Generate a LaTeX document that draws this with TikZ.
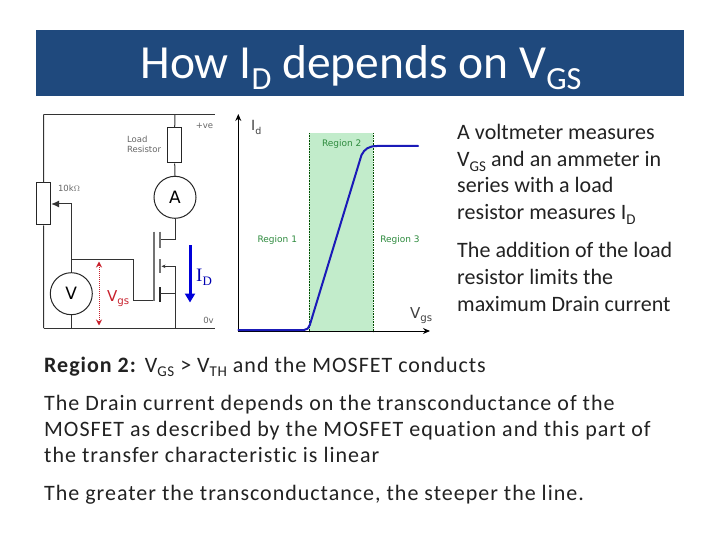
\documentclass[tikz,border=0pt]{standalone}
\usepackage{fontspec}
\setmainfont[Ligatures=NoCommon]{Carlito}
\newfontfamily\spaced[LetterSpace=4.5,Ligatures=NoCommon]{Carlito}
\newfontfamily\spacedt[LetterSpace=0.2,Ligatures=NoCommon]{Carlito}
\newfontfamily\dvsans{DejaVu Sans}
\newfontfamily\lserif{Liberation Serif}
\usetikzlibrary{arrows.meta}
\definecolor{titlebar}{HTML}{1F497D}
\definecolor{bodytext}{HTML}{222222}
\definecolor{regiongreen}{HTML}{C2ECCB}
\definecolor{regiontext}{HTML}{2E8B3E}
\definecolor{curveblue}{HTML}{1A1AB8}
\definecolor{redlabel}{HTML}{C8202C}
\newcommand{\subs}[1]{\raisebox{-0.22em}{\fontsize{0.68em}{0.68em}\selectfont #1}}
\tikzset{
  body/.style={anchor=base west,inner sep=0pt,text=bodytext,font=\spacedt\fontsize{22}{24}\selectfont},
  wide/.style={anchor=base west,inner sep=0pt,text=bodytext,font=\spaced\fontsize{22}{24}\selectfont},
  wire/.style={draw=black!80,line width=1pt},
  comp/.style={draw=black!85,line width=1pt,fill=white},
  meter/.style={circle,draw=black!85,line width=1pt,fill=white,minimum size=42pt,inner sep=0pt,font=\dvsans\fontsize{17}{17}\selectfont},
  tiny/.style={inner sep=0pt,text=black!60,font=\dvsans\fontsize{8.5}{9}\selectfont,align=left},
  regionlab/.style={inner sep=0pt,text=regiontext,font=\dvsans\fontsize{9}{9}\selectfont},
  axis/.style={draw=black,line width=1pt,-{Stealth[length=7pt,width=6pt]}},
}
\begin{document}
\begin{tikzpicture}[x=1pt,y=-1pt]
\useasboundingbox (0,0) rectangle (720,540);
\fill[white] (0,0) rectangle (720,540);
% title
\node[draw=none,fill=titlebar,minimum width=648pt,minimum height=66pt,inner sep=0pt] (bar) at (360,63) {};
\node[anchor=base,inner sep=0pt,text=white,font=\fontsize{47.5}{50}\selectfont] (title) at (361,79) {How I\subs{D} depends on V\subs{GS}};
% circuit
\coordinate (tl) at (43.5,114.5);
\coordinate (tr) at (215,114.5);
\coordinate (bl) at (43.5,328);
\coordinate (br) at (215,328);
\coordinate (t1) at (175,114.5);
\coordinate (dr) at (175,239);
\coordinate (srcb) at (175,328);
\coordinate (vb) at (71.3,328);
\coordinate (wip) at (71.3,204);
\coordinate (gj) at (71.3,259.7);
\coordinate (g1) at (133.3,259.7);
\coordinate (g2) at (133.3,300.7);
\coordinate (g3) at (153.3,300.7);
\coordinate (dc) at (160,239);
\coordinate (sc) at (160,293.7);
\coordinate (sr) at (175,293.7);
\coordinate (bc) at (161.5,266.3);
\coordinate (br2) at (175,266.3);
\node[comp,minimum width=14pt,minimum height=35pt,inner sep=0pt] (rl) at (174.7,145.5) {};
\node[comp,minimum width=14pt,minimum height=42pt,inner sep=0pt] (pot) at (43.7,204) {};
\node[meter] (A) at (175,197.3) {A};
\node[meter] (V) at (71.3,293.7) {V};
\draw[wire] (bl) -- (br);
\draw[wire] (tl) -- (tr);
\draw[wire] (tl) -- (pot.north);
\draw[wire] (pot.south) -- (bl);
\draw[wire] (t1) -- (rl.north);
\draw[wire] (rl.south) -- (A.north);
\draw[wire] (A.south) -- (dr) -- (dc);
\draw[wire,-{Latex[length=8pt,width=7pt]}] (V.north) -- (wip) -- (pot.east);
\draw[wire] (V.south) -- (vb);
\draw[wire] (gj) -- (g1) -- (g2) -- (g3);
\draw[draw=black!55,line width=1.2pt] (154,231.7) -- (154,300.7);
\draw[draw=black!55,line width=1.2pt] (160,231.7) -- (160,248);
\draw[draw=black!55,line width=1.2pt] (160,259) -- (160,273);
\draw[draw=black!85,line width=1.2pt] (160,287) -- (160,302);
\draw[wire,line width=1.2pt] (sc) -- (sr);
\draw[wire] (sr) -- (srcb);
\draw[wire] (br2) -- (175,293.7);
\draw[draw=black!80,line width=0.8pt,-{Stealth[length=4pt,width=3.5pt]}] (br2) -- (bc);
\node[tiny] (lr) at (144,144) {Load\\[1pt]Resistor};
\node[tiny] (vc) at (204.5,125.5) {+ve};
\node[tiny] (ov) at (208.5,320) {0v};
\node[tiny] (pv) at (69,188) {10k$\Omega$};
% arrows
\coordinate (vt) at (99,261.5);
\coordinate (vbm) at (99,325.5);
\draw[draw=redlabel,line width=1pt,densely dotted,{Stealth[length=6pt,width=6pt]}-{Stealth[length=6pt,width=6pt]}] (vt) -- (vbm);
\node[anchor=base west,inner sep=0pt,text=redlabel,font=\dvsans\fontsize{15}{15}\selectfont] (vgs) at (107,301.5) {V\subs{gs}};
\coordinate (it) at (190,245);
\coordinate (ib) at (190,302.5);
\draw[draw=blue!85!black,line width=3pt,-{Triangle[length=9pt,width=10pt]}] (it) -- (ib);
\node[anchor=base west,inner sep=0pt,text=blue!70!black,font=\lserif\fontsize{19}{19}\selectfont] (id) at (196,281) {I\subs{D}};
% chart
\fill[regiongreen] (309.3,133.3) rectangle (373.3,331.7);
\draw[draw=black!70!green,densely dotted,line width=0.6pt] (309.3,133.3) -- (309.3,331.7);
\draw[draw=black!70!green,densely dotted,line width=0.6pt] (373.3,133.3) -- (373.3,331.7);
\coordinate (o) at (238.3,331);
\coordinate (ax) at (430,331);
\coordinate (ay) at (238.3,114);
\draw[axis] (o) -- (ay);
\draw[axis] (o) -- (ax);
\coordinate (c0) at (238.3,330);
\coordinate (c1) at (304,330);
\coordinate (c2) at (309.8,325);
\coordinate (c3) at (361.5,155);
\coordinate (c4) at (377,146);
\coordinate (c5) at (418,146);
\draw[draw=curveblue,line width=2pt,line cap=round] (c0) -- (c1) .. controls (307,330) and (308.8,328) .. (c2) -- (c3) .. controls (364.5,149) and (369,146) .. (c4) -- (c5);
\node[regionlab] (r2) at (341.7,144) {Region 2};
\node[regionlab] (r1) at (277.3,240) {Region 1};
\node[regionlab] (r3) at (400,240) {Region 3};
\node[anchor=base west,inner sep=0pt,text=black!75,font=\dvsans\fontsize{14}{14}\selectfont] (idl) at (251,131) {I\subs{d}};
\node[anchor=base west,inner sep=0pt,text=black!75,font=\dvsans\fontsize{15}{15}\selectfont] (vgl) at (410,318) {V\subs{gs}};
% text
\node[body] (a1) at (457,140) {A voltmeter measures};
\node[body] (a2) at (457,166.5) {V\subs{GS} and an ammeter in};
\node[body] (a3) at (457,193) {series with a load};
\node[body] (a4) at (457,219.5) {resistor measures I\subs{D}};
\node[body] (b1) at (457,258) {The addition of the load};
\node[body] (b2) at (457,284) {resistor limits the};
\node[body] (b3) at (457,311) {maximum Drain current};
\node[wide] (c1t) at (44,372) {\textbf{Region 2:} V\subs{GS} > V\subs{TH} and the MOSFET conducts};
\node[wide] (d1) at (44,410) {The Drain current depends on the transconductance of the};
\node[wide] (d2) at (44,436) {MOSFET as described by the MOSFET equation and this part of};
\node[wide] (d3) at (44,462) {the transfer characteristic is linear};
\node[wide] (e1) at (44,500) {The greater the transconductance, the steeper the line.};
\end{tikzpicture}
\end{document}
